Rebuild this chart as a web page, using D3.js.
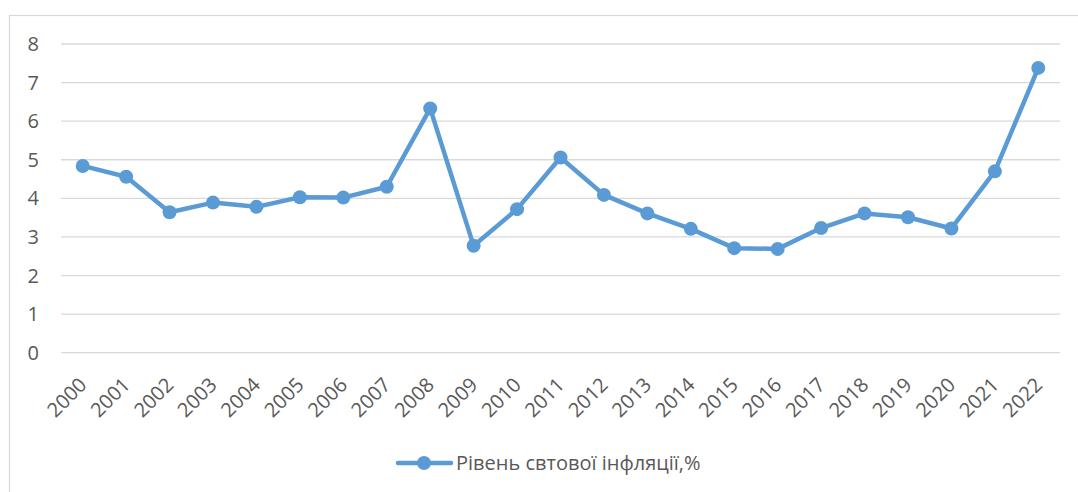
<!DOCTYPE html>
<html>
<head>
<meta charset="utf-8">
<script src="https://cdn.jsdelivr.net/npm/d3@7"></script>
<style>
    body { margin: 0; background: #fff; }
    text { font-family: "Open Sans", "Noto Sans", sans-serif; fill: #595959; }
</style>
</head>
<body>
<svg id="chart" width="1078" height="492"></svg>
<script>
// years on the x axis
let years = ["2000", "2001", "2002", "2003", "2004", "2005", "2006", "2007", "2008", "2009", "2010",
    "2011", "2012", "2013", "2014", "2015", "2016", "2017", "2018", "2019", "2020", "2021", "2022"];

// world inflation, %
let inflation = [4.84, 4.56, 3.64, 3.89, 3.78, 4.03, 4.02, 4.30, 6.33, 2.77, 3.72,
    5.06, 4.09, 3.61, 3.21, 2.71, 2.69, 3.23, 3.61, 3.51, 3.22, 4.70, 7.38];

let yTicks = [0, 1, 2, 3, 4, 5, 6, 7, 8];

let seriesName = "Рівень свтової інфляції,%";
let lineColor = "#5B9BD5";

let svg = d3.select("#chart");

// outer frame (only top and left edges are visible in the picture)
svg.append("rect")
    .attr("x", 9.5)
    .attr("y", 15.5)
    .attr("width", 1100)
    .attr("height", 500)
    .attr("fill", "none")
    .attr("stroke", "#d9d9d9")
    .attr("stroke-width", 1.2);

let plot = { left: 61, right: 1060, top: 44, bottom: 352.7 };

let x = d3.scaleBand()
    .domain(years)
    .range([plot.left, plot.right]);

let y = d3.scaleLinear()
    .domain([0, 8])
    .range([plot.bottom, plot.top]);

// gridlines
svg.append("g")
    .selectAll("line")
    .data(yTicks)
    .enter()
    .append("line")
    .attr("x1", plot.left)
    .attr("x2", plot.right)
    .attr("y1", d => y(d))
    .attr("y2", d => y(d))
    .attr("stroke", "#d9d9d9")
    .attr("stroke-width", 1.3);

// y tick labels
svg.append("g")
    .selectAll("text")
    .data(yTicks)
    .enter()
    .append("text")
    .attr("x", 39)
    .attr("y", d => y(d))
    .attr("dy", "0.35em")
    .attr("text-anchor", "end")
    .style("font-size", "20px")
    .text(d => d);

// x tick labels, rotated
svg.append("g")
    .selectAll("text")
    .data(years)
    .enter()
    .append("text")
    .attr("transform", d => "translate(" + (x(d) + x.bandwidth() / 2 - 5) + ",376) rotate(-45)")
    .attr("text-anchor", "end")
    .attr("dy", "0.72em")
    .style("font-size", "20px")
    .text(d => d);

let cx = d => x(d) + x.bandwidth() / 2;

let line = d3.line()
    .x((d, i) => cx(years[i]))
    .y(d => y(d));

svg.append("path")
    .datum(inflation)
    .attr("d", line)
    .attr("fill", "none")
    .attr("stroke", lineColor)
    .attr("stroke-width", 4.5)
    .attr("stroke-linejoin", "round")
    .attr("stroke-linecap", "round");

svg.append("g")
    .selectAll("circle")
    .data(inflation)
    .enter()
    .append("circle")
    .attr("cx", (d, i) => cx(years[i]))
    .attr("cy", d => y(d))
    .attr("r", 7)
    .attr("fill", lineColor);

// legend
let legend = svg.append("g");
legend.append("line")
    .attr("x1", 398)
    .attr("x2", 451)
    .attr("y1", 463)
    .attr("y2", 463)
    .attr("stroke", lineColor)
    .attr("stroke-width", 4.5)
    .attr("stroke-linecap", "round");
legend.append("circle")
    .attr("cx", 424)
    .attr("cy", 463)
    .attr("r", 7)
    .attr("fill", lineColor);
legend.append("text")
    .attr("x", 456)
    .attr("y", 463)
    .attr("dy", "0.35em")
    .style("font-size", "20px")
    .text(seriesName);
</script>
</body>
</html>
